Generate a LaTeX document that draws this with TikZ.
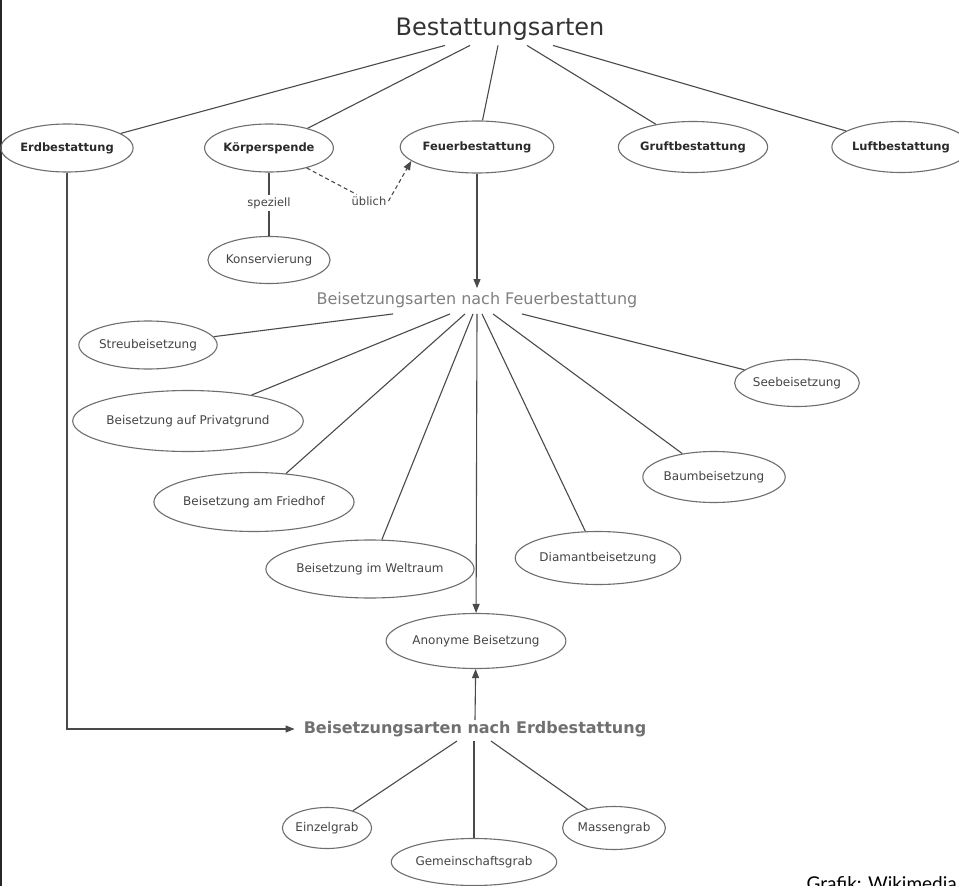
\documentclass[tikz,border=0pt]{standalone}
\usepackage{fontspec}
\setmainfont{DejaVu Sans}
\newfontfamily\latofont{Lato}
\usetikzlibrary{shapes.geometric,arrows.meta}
\definecolor{titcol}{HTML}{333333}
\definecolor{topcol}{HTML}{2A2A2A}
\definecolor{txtcol}{HTML}{444444}
\definecolor{ellcol}{HTML}{6E6E6E}
\definecolor{lncol}{HTML}{4A4A4A}
\definecolor{fbcol}{HTML}{808080}
\definecolor{becol}{HTML}{707070}
\begin{document}
\begin{tikzpicture}[x=1pt,y=-1pt,
  ell/.style={ellipse, draw=ellcol, line width=1.1pt, inner sep=0pt, text=txtcol,
              font=\fontsize{12}{14}\selectfont},
  topell/.style={ell, text=topcol, font=\fontsize{11.5}{14}\selectfont\bfseries},
  conn/.style={draw=lncol, line width=1.1pt},
  arr/.style={conn, -{Triangle[length=9pt,width=7pt]}},
  dsh/.style={dash pattern=on 4pt off 3pt},
  lbl/.style={inner sep=2pt, text=txtcol, font=\fontsize{11.5}{13}\selectfont}]
\useasboundingbox (0,0) rectangle (959,886);
\fill[white] (0,0) rectangle (959,886);
\draw[line width=1.6pt, black!85] (0.8,0) -- (0.8,886);

% title
\node[inner sep=0pt, text=titcol, font=\fontsize{24}{28}\selectfont] (title) at (500,29) {Bestattungsarten};

% top row
\node[topell, minimum width=117pt, minimum height=48pt] (erd) at (67,148) {Erdbestattung};
\node[topell, minimum width=116pt, minimum height=48pt] (koerper) at (269,148) {Körperspende};
\node[topell, minimum width=132pt, minimum height=52pt] (feuer) at (477,147) {Feuerbestattung};
\node[topell, minimum width=130pt, minimum height=51pt] (gruft) at (693,147) {Gruftbestattung};
\node[topell, minimum width=116pt, minimum height=51pt] (luft) at (901,147) {Luftbestattung};

\draw[conn] ([shift={(-55,5)}]title.south) -- (erd);
\draw[conn] ([shift={(-30,5)}]title.south) -- (koerper);
\draw[conn] ([shift={(-2,5)}]title.south) -- (feuer);
\draw[conn] ([shift={(27,5)}]title.south) -- (gruft);
\draw[conn] ([shift={(53,5)}]title.south) -- (luft);

% Koerperspende branch
\node[lbl] (speziell) at (269,203) {speziell};
\node[ell, minimum width=108pt, minimum height=47pt] (konserv) at (269,260) {Konservierung};
\draw[conn] (koerper) -- (speziell) -- (konserv);
\node[lbl] (ueblich) at (369,201) {üblich};
\draw[conn, dsh] (koerper) -- (ueblich);
\draw[arr, dsh] (ueblich.east) -- (feuer.192);

% Feuerbestattung
\node[inner sep=0pt, text=fbcol, font=\fontsize{16}{19}\selectfont] (fb) at (477,300) {Beisetzungsarten nach Feuerbestattung};
\draw[arr] (feuer) -- ([shift={(0,-4)}]fb.north);

\node[ell, minimum width=120pt, minimum height=48pt] (streu) at (148,345) {Streubeisetzung};
\node[ell, minimum width=186pt, minimum height=61pt] (privat) at (188,421) {Beisetzung auf Privatgrund};
\node[ell, minimum width=165pt, minimum height=59pt] (friedhof) at (254,502) {Beisetzung am Friedhof};
\node[ell, minimum width=169pt, minimum height=58pt] (weltraum) at (370,569) {Beisetzung im Weltraum};
\node[ell, minimum width=109pt, minimum height=47pt] (see) at (797,383) {Seebeisetzung};
\node[ell, minimum width=122pt, minimum height=51pt] (baum) at (714,477) {Baumbeisetzung};
\node[ell, minimum width=139pt, minimum height=53pt] (diamant) at (598,558) {Diamantbeisetzung};
\node[ell, minimum width=150pt, minimum height=55pt] (anon) at (476,641) {Anonyme Beisetzung};

\draw[conn] ([shift={(-84,6)}]fb.south) -- (streu);
\draw[conn] ([shift={(-27,6)}]fb.south) -- (privat);
\draw[conn] ([shift={(-12,6)}]fb.south) -- (friedhof);
\draw[conn] ([shift={(-4,6)}]fb.south) -- (weltraum);
\draw[arr]  ([shift={(0,6)}]fb.south) -- (anon);
\draw[conn] ([shift={(5,6)}]fb.south) -- (diamant);
\draw[conn] ([shift={(16,6)}]fb.south) -- (baum);
\draw[conn] ([shift={(45,6)}]fb.south) -- (see);

% Erdbestattung
\node[inner xsep=9pt, inner ysep=0pt, text=becol, font=\fontsize{16}{19}\selectfont\bfseries] (be) at (475,729) {Beisetzungsarten nach Erdbestattung};
\draw[arr] (erd) |- (be);
\draw[arr] ([shift={(0,-1)}]be.north) -- (anon);

\node[ell, minimum width=84pt, minimum height=41pt] (einzel) at (327,828) {Einzelgrab};
\node[ell, minimum width=138pt, minimum height=47pt] (gemein) at (474,862) {Gemeinschaftsgrab};
\node[ell, minimum width=92pt, minimum height=43pt] (massen) at (614,828) {Massengrab};

\draw[conn] ([shift={(-18,4)}]be.south) -- (einzel);
\draw[conn] ([shift={(-1,4)}]be.south) -- (gemein);
\draw[conn] ([shift={(16,4)}]be.south) -- (massen);

% credit
\node[inner sep=0pt, anchor=base east, text=black, font=\latofont\fontsize{19}{22}\selectfont] (credit) at (957,890) {Grafik: Wikimedia};
\end{tikzpicture}
\end{document}
